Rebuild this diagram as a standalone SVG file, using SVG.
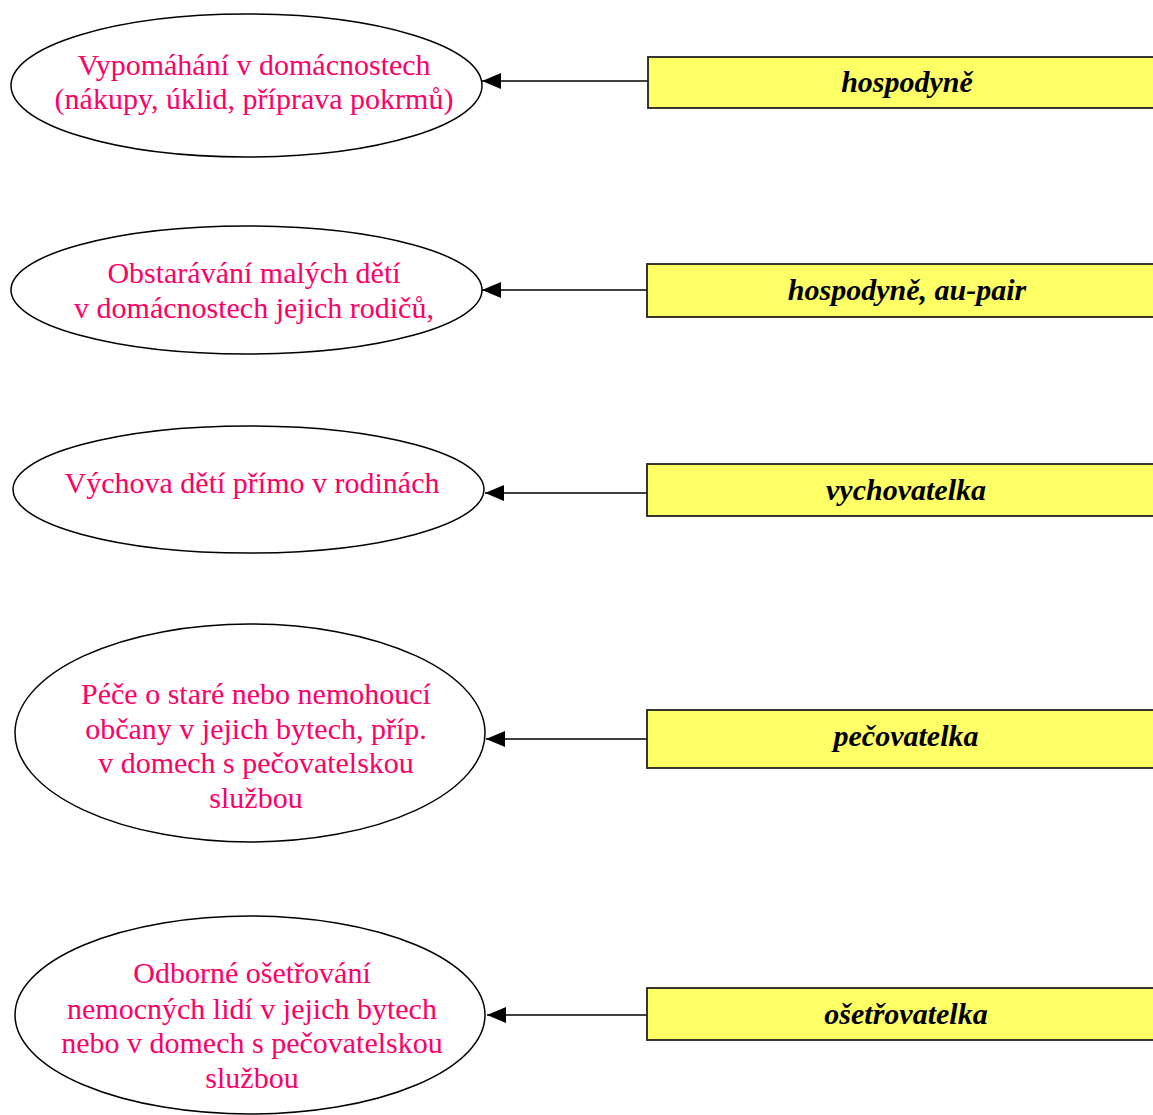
<svg xmlns="http://www.w3.org/2000/svg" width="1153" height="1115" viewBox="0 0 1153 1115">
<style>
.el{fill:#fff;stroke:#000;stroke-width:1.5}
.et{font-family:"Liberation Serif","Times New Roman",serif;font-size:30px;fill:#FF0066;text-anchor:middle}
.bx{fill:#FFFF66;stroke:#222;stroke-width:1.8}
.bt{font-family:"Liberation Serif","Times New Roman",serif;font-size:30px;font-weight:bold;font-style:italic;fill:#000;text-anchor:middle}
.cn{stroke:#000;stroke-width:1.5;fill:none}
</style>
<defs>
<marker id="ah" viewBox="0 0 19 16" refX="19" refY="8" markerWidth="19" markerHeight="16" markerUnits="userSpaceOnUse" orient="auto">
<path d="M0,0 L19,8 L0,16 Z" fill="#000"/>
</marker>
</defs>
<rect width="1153" height="1115" fill="#fff"/>
<g id="connectors">
<line class="cn" x1="648" y1="81" x2="482" y2="81" marker-end="url(#ah)"/>
<line class="cn" x1="647" y1="290" x2="482" y2="290" marker-end="url(#ah)"/>
<line class="cn" x1="647" y1="493" x2="485" y2="493" marker-end="url(#ah)"/>
<line class="cn" x1="647" y1="739" x2="486" y2="739" marker-end="url(#ah)"/>
<line class="cn" x1="647" y1="1015" x2="487" y2="1015" marker-end="url(#ah)"/>
</g>
<g id="e1">
<ellipse class="el" cx="246.5" cy="85.5" rx="235.5" ry="71.5"/>
<text class="et" x="254" y="75">Vypomáhání v domácnostech</text>
<text class="et" x="254" y="109">(nákupy, úklid, příprava pokrmů)</text>
</g>
<g id="e2">
<ellipse class="el" cx="246.5" cy="290" rx="235.5" ry="64"/>
<text class="et" x="254" y="283">Obstarávání malých dětí</text>
<text class="et" x="254" y="318">v domácnostech jejich rodičů,</text>
</g>
<g id="e3">
<ellipse class="el" cx="248.5" cy="489.5" rx="235.5" ry="63.5"/>
<text class="et" x="252" y="493">Výchova dětí přímo v rodinách</text>
</g>
<g id="e4">
<ellipse class="el" cx="250" cy="733" rx="235" ry="109"/>
<text class="et" x="256" y="704">Péče o staré nebo nemohoucí</text>
<text class="et" x="256" y="739">občany v jejich bytech, příp.</text>
<text class="et" x="256" y="773">v domech s pečovatelskou</text>
<text class="et" x="256" y="808">službou</text>
</g>
<g id="e5">
<ellipse class="el" cx="250" cy="1015" rx="235" ry="99"/>
<text class="et" x="252" y="983">Odborné ošetřování</text>
<text class="et" x="252" y="1019">nemocných lidí v jejich bytech</text>
<text class="et" x="252" y="1053">nebo v domech s pečovatelskou</text>
<text class="et" x="252" y="1088">službou</text>
</g>
<g id="b1">
<rect class="bx" x="648" y="57" width="520" height="51"/>
<text class="bt" x="907" y="92">hospodyně</text>
</g>
<g id="b2">
<rect class="bx" x="647" y="264" width="520" height="53"/>
<text class="bt" x="907" y="300">hospodyně, au-pair</text>
</g>
<g id="b3">
<rect class="bx" x="647" y="464" width="520" height="52"/>
<text class="bt" x="906" y="500">vychovatelka</text>
</g>
<g id="b4">
<rect class="bx" x="647" y="710" width="520" height="58"/>
<text class="bt" x="906" y="746">pečovatelka</text>
</g>
<g id="b5">
<rect class="bx" x="647" y="988" width="520" height="52"/>
<text class="bt" x="906" y="1024">ošetřovatelka</text>
</g>
</svg>
